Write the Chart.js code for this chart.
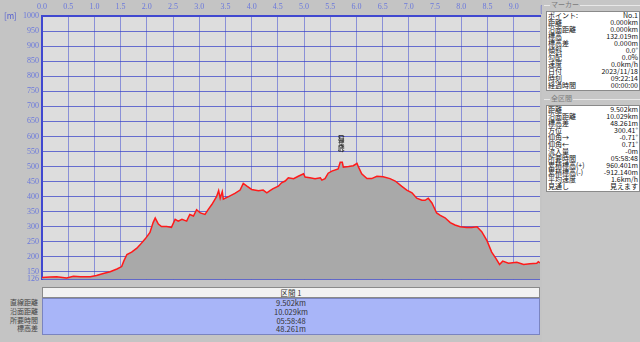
<!DOCTYPE html>
<html>
<head>
<meta charset="utf-8">
<script src="https://cdn.jsdelivr.net/npm/chart.js@4"></script>
<style>
  body { margin: 0; width: 640px; height: 342px; background: #c4c4c4; overflow: hidden; position: relative;
         font-family: "Noto Sans CJK JP", "Liberation Sans", sans-serif; }
  #plot { position: absolute; left: 0; top: 0; }
  .unit { position: absolute; font-size: 8px; color: #5560d0; }
  #sectHead { position: absolute; left: 42px; top: 287px; width: 496px; height: 9px; background: #f2f2f2;
              border: 1px solid #8a8a8a; font-size: 7.5px; line-height: 9px; text-align: center; color: #333; }
  #sectBody { position: absolute; left: 42px; top: 298px; width: 496px; height: 35px; background: #a8b5f8;
              border: 1px solid #7a84c0; font-size: 7.5px; line-height: 8.8px; text-align: center; color: #333; }
  #sectLabels { position: absolute; left: 0; top: 298px; width: 38px; font-size: 7px; line-height: 8.8px;
                text-align: right; color: #444; }
  #side { position: absolute; left: 542px; top: 0; width: 98px; height: 342px; background: #c6c6c6; }
  .grpTitle { position: absolute; left: 8px; font-size: 7px; line-height: 9px; color: #7a7a7a; background: #c6c6c6; padding: 0 1px; }
  .grpLine { position: absolute; left: 2px; right: 0; border-top: 1px solid #e8e8e8; }
  .box { position: absolute; left: 4px; width: 92px; background: #fff; border: 1px solid #8a8a8a; }
  .row { position: absolute; left: 1px; width: 90px; height: 7px; font-size: 7px; line-height: 7px;
         color: #111; white-space: nowrap; }
  .row .k { position: absolute; left: 0; top: 0; width: 50px; text-align: left; }
  .row .v { position: absolute; right: 0; top: 0; width: 50px; text-align: right; }
</style>
</head>
<body>
<canvas id="plot" width="542" height="287"></canvas>
<div class="unit" style="left:4px;top:10px;">[m]</div>
<div class="unit" style="left:540px;top:3px;">[km]</div>

<div id="sectHead">区間 1</div>
<div id="sectLabels">直線距離<br>沿面距離<br>所要時間<br>標高差</div>
<div id="sectBody">9.502km<br>10.029km<br>05:58:48<br>48.261m</div>

<div id="side">
  <div class="grpLine" style="top:5px;"></div>
  <div class="grpTitle" style="top:0px;">マーカー</div>
  <div class="box" id="markerBox" style="top:11px;height:78px;"></div>
  <div class="grpLine" style="top:99px;"></div>
  <div class="grpTitle" style="top:94px;">全区間</div>
  <div class="box" id="totalBox" style="top:105px;height:85px;"></div>
</div>

<script>
// horizontal distance [km]
var distKm = [
  0, 0.15, 0.28, 0.47, 0.60, 0.73, 0.92, 1.04, 1.17, 1.30,
  1.43, 1.52, 1.56, 1.62, 1.71, 1.81, 1.87, 1.97, 2.06, 2.12,
  2.16, 2.22, 2.28, 2.38, 2.47, 2.54, 2.60, 2.67, 2.76, 2.82,
  2.89, 2.95, 3.02, 3.11, 3.17, 3.24, 3.33, 3.37, 3.40, 3.44,
  3.46, 3.56, 3.68, 3.78, 3.84, 3.91, 4.00, 4.13, 4.22, 4.29,
  4.35, 4.41, 4.51, 4.57, 4.64, 4.70, 4.80, 4.89, 4.99, 5.02,
  5.11, 5.21, 5.31, 5.34, 5.40, 5.46, 5.53, 5.65, 5.69, 5.73,
  5.75, 5.85, 5.94, 6.01, 6.04, 6.10, 6.20, 6.29, 6.39, 6.51,
  6.64, 6.74, 6.86, 6.96, 7.06, 7.15, 7.25, 7.31, 7.37, 7.44,
  7.53, 7.60, 7.69, 7.79, 7.88, 7.98, 8.10, 8.20, 8.30, 8.39,
  8.49, 8.58, 8.66, 8.73, 8.79, 8.90, 9.06, 9.19, 9.31, 9.44,
  9.47, 9.502
];
// elevation [m]
var elevM = [
  132, 133, 134, 130, 136, 134, 134, 138, 145, 151,
  160, 168, 186, 208, 216, 229, 240, 260, 281, 314,
  329, 309, 301, 301, 298, 325, 319, 325, 319, 341,
  336, 357, 346, 341, 357, 374, 400, 420, 395, 417,
  392, 400, 411, 422, 444, 435, 424, 420, 422, 413,
  420, 427, 435, 446, 452, 463, 460, 468, 476, 465,
  463, 460, 463, 455, 460, 478, 485, 492, 514, 514,
  498, 500, 503, 511, 498, 476, 460, 460, 468, 466,
  460, 452, 435, 422, 413, 395, 388, 388, 395, 379,
  346, 338, 330, 314, 306, 300, 298, 298, 300, 284,
  254, 216, 195, 175, 186, 179, 182, 175, 177, 179,
  184, 180
];
var xTicks = [0, 0.5, 1, 1.5, 2, 2.5, 3, 3.5, 4, 4.5, 5, 5.5, 6, 6.5, 7, 7.5, 8, 8.5, 9];
var yTicks = [126, 150, 200, 250, 300, 350, 400, 450, 500, 550, 600, 650, 700, 750, 800, 850, 900, 950, 1000];
var peakName = ['︵', '稲', '葉', '峠', '︶'];
var peakKm = 5.71;
var peakLabelTop = 620;

var markerRows = [
  ['ポイント:', 'No.1'], ['距離', '0.000km'], ['沿面距離', '0.000km'], ['標高', '132.019m'],
  ['標高差', '0.000m'], ['傾斜', '0.0°'], ['勾配', '0.0%'], ['速度', '0.0km/h'],
  ['日付', '2023/11/18'], ['時刻', '09:22:14'], ['経過時間', '00:00:00']
];
var totalRows = [
  ['距離', '9.502km'], ['沿面距離', '10.029km'], ['標高差', '48.261m'], ['方位', '300.41°'],
  ['仰角→', '-0.71°'], ['仰角←', '0.71°'], ['流入量', '-0m'], ['所要時間', '05:58:48'],
  ['累積標高(+)', '960.401m'], ['累積標高(-)', '-912.140m'], ['平均速度', '1.6km/h'], ['見通し', '見えます']
];

function fillBox(id, rows) {
  var box = document.getElementById(id);
  rows.forEach(function(r, i) {
    var d = document.createElement('div');
    d.className = 'row';
    d.style.top = (i * 7) + 'px';
    d.innerHTML = '<span class="k">' + r[0] + '</span><span class="v">' + r[1] + '</span>';
    box.appendChild(d);
  });
}
fillBox('markerBox', markerRows);
fillBox('totalBox', totalRows);

var plotBg = {
  id: 'plotBg',
  beforeDraw: function(chart) {
    var a = chart.chartArea, ctx = chart.ctx;
    ctx.save();
    ctx.fillStyle = '#dddddd';
    ctx.fillRect(a.left, a.top, a.right - a.left, a.bottom - a.top);
    ctx.restore();
  },
  afterDraw: function(chart) {
    var ctx = chart.ctx;
    var x = chart.scales.x.getPixelForValue(peakKm);
    var y = chart.scales.y.getPixelForValue(peakLabelTop);
    ctx.save();
    ctx.fillStyle = '#222';
    ctx.font = '6.5px "Noto Sans CJK JP"';
    ctx.textAlign = 'center';
    ctx.textBaseline = 'top';
    peakName.forEach(function(c, i) { ctx.fillText(c, x, y + i * 5); });
    ctx.restore();
  }
};

var config = {
  type: 'line',
  data: {
    datasets: [{
      label: '標高',
      data: distKm.map(function(k, i) { return { x: k, y: elevM[i] }; }),
      borderColor: '#ff1a1a',
      backgroundColor: '#a9a9a9',
      borderWidth: 1.5,
      pointRadius: 0,
      tension: 0,
      fill: 'start'
    }]
  },
  options: {
    responsive: false,
    animation: false,
    layout: { padding: { left: 0, top: 0, right: 2, bottom: 2 } },
    plugins: { legend: { display: false }, tooltip: { enabled: false } },
    scales: {
      x: {
        type: 'linear', position: 'top', min: 0, max: 9.502, z: 1,
        afterBuildTicks: function(s) { s.ticks = xTicks.map(function(v) { return { value: v }; }); },
        afterFit: function(s) { s.height = 16; },
        grid: { color: 'rgba(70,80,210,0.55)', lineWidth: 1, drawTicks: false },
        border: { color: '#4048d0', width: 2 },
        ticks: { padding: 4, color: '#6a78dc', font: { size: 8, family: 'Liberation Serif' },
                 maxRotation: 0, autoSkip: false,
                 callback: function(v) { return Number(v).toFixed(1); } }
      },
      y: {
        type: 'linear', min: 126, max: 1000, z: 1,
        afterBuildTicks: function(s) { s.ticks = yTicks.map(function(v) { return { value: v }; }); },
        afterFit: function(s) { s.width = 42; },
        grid: { color: 'rgba(50,60,200,0.7)', lineWidth: 1, drawTicks: false },
        border: { color: '#4048d0', width: 2 },
        ticks: { padding: 3, color: '#6a78dc', font: { size: 8, family: 'Liberation Serif' }, autoSkip: false,
                 callback: function(v) { return String(v); } }
      }
    }
  },
  plugins: [plotBg]
};

window.onload = function() {
  var ctx = document.getElementById('plot').getContext('2d');
  window.profileChart = new Chart(ctx, config);
};
</script>
</body>
</html>
